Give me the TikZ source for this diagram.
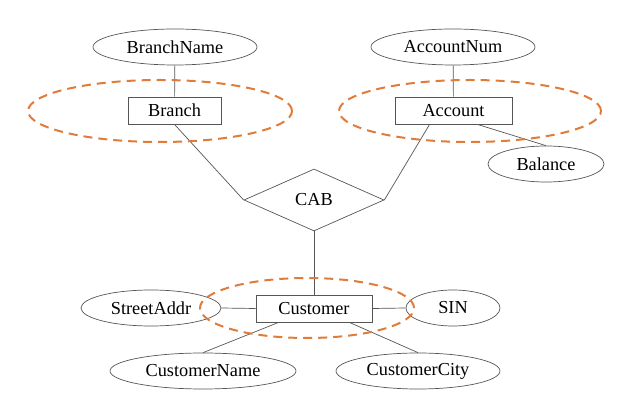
\documentclass[tikz,border=0pt]{standalone}
\usepackage{fontspec}
\setmainfont{Liberation Serif}
\usetikzlibrary{shapes.geometric,calc}
\definecolor{lnc}{HTML}{555555}
\definecolor{org}{HTML}{E07B39}
\tikzset{
  txt/.style={font=\fontsize{18.3}{18.3}\selectfont},
  attr/.style={draw=lnc, ellipse, inner sep=0pt, minimum height=36pt, line width=0.7pt, txt},
  ent/.style={draw=lnc, rectangle, inner sep=0pt, minimum height=27pt, line width=0.8pt, txt},
  rel/.style={draw=lnc, diamond, inner sep=0pt, minimum width=140pt, minimum height=62pt, line width=0.7pt, txt},
  conn/.style={draw=lnc, line width=0.7pt},
  grp/.style={draw=org, line width=2pt, dash pattern=on 9pt off 6pt}
}
\begin{document}
\begin{tikzpicture}[x=1pt,y=-1pt]
\useasboundingbox (0,0) rectangle (630,419);
\node[attr, minimum width=164pt] (bname) at (175,47) {BranchName};
\node[ent, minimum width=93pt] (branch) at (174.5,110.5) {Branch};
\node[attr, minimum width=164pt] (anum) at (453,47) {AccountNum};
\node[ent, minimum width=117pt] (account) at (453.5,110.5) {Account};
\node[attr, minimum width=116pt] (bal) at (546,164) {Balance};
\node[rel] (cab) at (314,200) {CAB};
\node[ent, minimum width=116pt] (cust) at (314,308.5) {Customer};
\node[attr, minimum width=140pt] (street) at (151,308) {StreetAddr};
\node[attr, minimum width=94pt] (sin) at (453,308) {SIN};
\node[attr, minimum width=186pt] (cname) at (203,371) {CustomerName};
\node[attr, minimum width=164pt] (ccity) at (418,371) {CustomerCity};

\draw[conn] (bname) -- (branch);
\draw[conn] (anum) -- (account);
\draw[conn] (branch.south) -- (cab.west);
\draw[conn] ($(account.south west)+(35,0)$) -- (cab.east);
\draw[conn] ($(account.south east)+(-35,0)$) -- (bal.north);
\draw[conn] (cab.south) -- (cust.north);
\draw[conn] (street.east) -- (cust.west);
\draw[conn] (cust.east) -- (sin.west);
\draw[conn] ($(cust.south west)+(23,0)$) -- (cname.north);
\draw[conn] ($(cust.south east)+(-23,0)$) -- (ccity.north);

\draw[grp] (160,111) ellipse [x radius=132pt, y radius=31pt];
\draw[grp] (470,111) ellipse [x radius=131pt, y radius=31pt];
\draw[grp] (307,308) ellipse [x radius=107pt, y radius=30pt];
\end{tikzpicture}
\end{document}
